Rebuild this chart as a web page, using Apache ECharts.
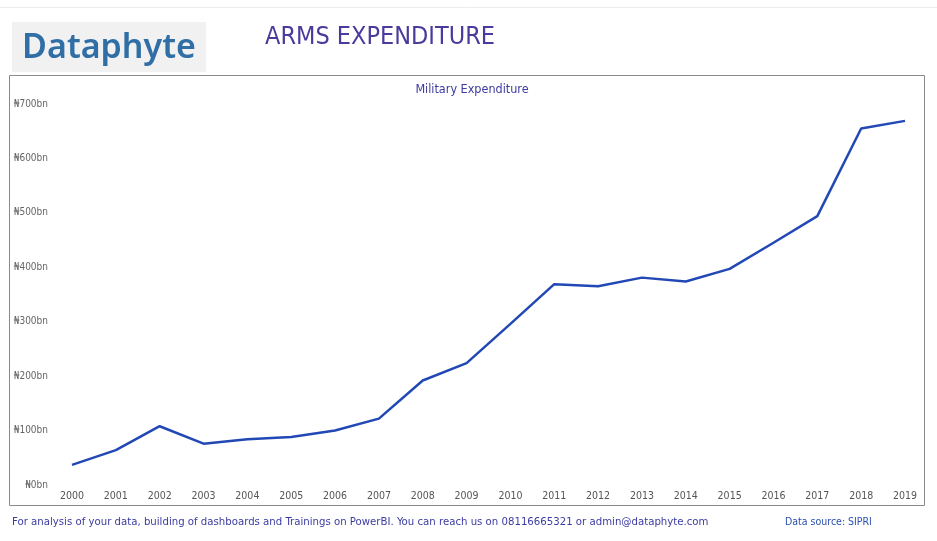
<!DOCTYPE html>
<html>
<head>
<meta charset="utf-8">
<script src="https://cdn.jsdelivr.net/npm/echarts@6/dist/echarts.min.js"></script>
<style>
html,body{margin:0;padding:0;background:#fff;}
#c{width:937px;height:541px;}
</style>
</head>
<body>
<div id="c"></div>
<script>
var years = ['2000','2001','2002','2003','2004','2005','2006','2007','2008','2009','2010','2011','2012','2013','2014','2015','2016','2017','2018','2019'];
var expenditure = [37, 64, 108, 76, 84, 88, 100, 122, 192, 224, 296, 369, 365, 381, 374, 397, 445, 494, 655, 669];
var yTicks = [0, 100, 200, 300, 400, 500, 600, 700];

var FONT = '"DejaVu Sans Condensed","DejaVu Sans",sans-serif';
var chart = echarts.init(document.getElementById('c'), null, {renderer:'canvas'});
chart.setOption({
  animation: false,
  backgroundColor: '#fff',
  title: {
    text: 'Military Expenditure',
    left: 467, top: 78, textAlign: 'center',
    textStyle: {fontFamily: FONT, fontSize: 12.5, fontWeight: 'normal', color: '#3d3aa0'}
  },
  grid: {left: 72, right: 32, top: 104, bottom: 56, containLabel: false},
  xAxis: {
    type: 'category',
    data: years,
    boundaryGap: false,
    axisLine: {show: false},
    axisTick: {show: false},
    axisLabel: {fontFamily: FONT, fontSize: 10.5, color: '#555', margin: 6}
  },
  yAxis: {
    type: 'value',
    min: yTicks[0], max: yTicks[yTicks.length-1], interval: 100,
    splitLine: {show: false},
    axisLine: {show: false},
    axisTick: {show: false},
    axisLabel: {
      fontFamily: FONT, fontSize: 10, color: '#666', margin: 24,
      formatter: function(v){ return '\u20A6' + v + 'bn'; }
    }
  },
  series: [{
    type: 'line',
    data: expenditure,
    symbol: 'none',
    lineStyle: {color: '#2148b5', width: 2.5}
  }],
  graphic: [
    {type: 'line', shape: {x1: 0, y1: 7.5, x2: 937, y2: 7.5}, style: {stroke: '#ececec', lineWidth: 1}},
    {type: 'rect', shape: {x: 12, y: 22, width: 194, height: 50}, style: {fill: '#f1f1f1'}},
    {type: 'text', x: 109, y: 48, style: {text: 'Dataphyte', fontFamily: '"Noto Sans","Open Sans",sans-serif', fontSize: 34, fontWeight: 600, fill: '#2f6fa6', textAlign: 'center', textVerticalAlign: 'middle'}},
    {type: 'text', x: 265, y: 37, style: {text: 'ARMS EXPENDITURE', fontFamily: FONT, fontSize: 25, fill: '#4a3a9c', textVerticalAlign: 'middle'}},
    {type: 'rect', shape: {x: 9.5, y: 75.5, width: 915, height: 430}, style: {fill: 'none', stroke: '#8a8a8a', lineWidth: 1}, z: -1},
    {type: 'text', x: 12, y: 522, style: {text: 'For analysis of your data, building of dashboards and Trainings on PowerBI. You can reach us on 08116665321 or admin@dataphyte.com', fontFamily: FONT, fontSize: 11.3, fill: '#3b3ba4', textVerticalAlign: 'middle'}},
    {type: 'text', x: 785, y: 522, style: {text: 'Data source: SIPRI', fontFamily: FONT, fontSize: 10.5, fill: '#2a4fb0', textVerticalAlign: 'middle'}}
  ]
});
</script>
</body>
</html>
